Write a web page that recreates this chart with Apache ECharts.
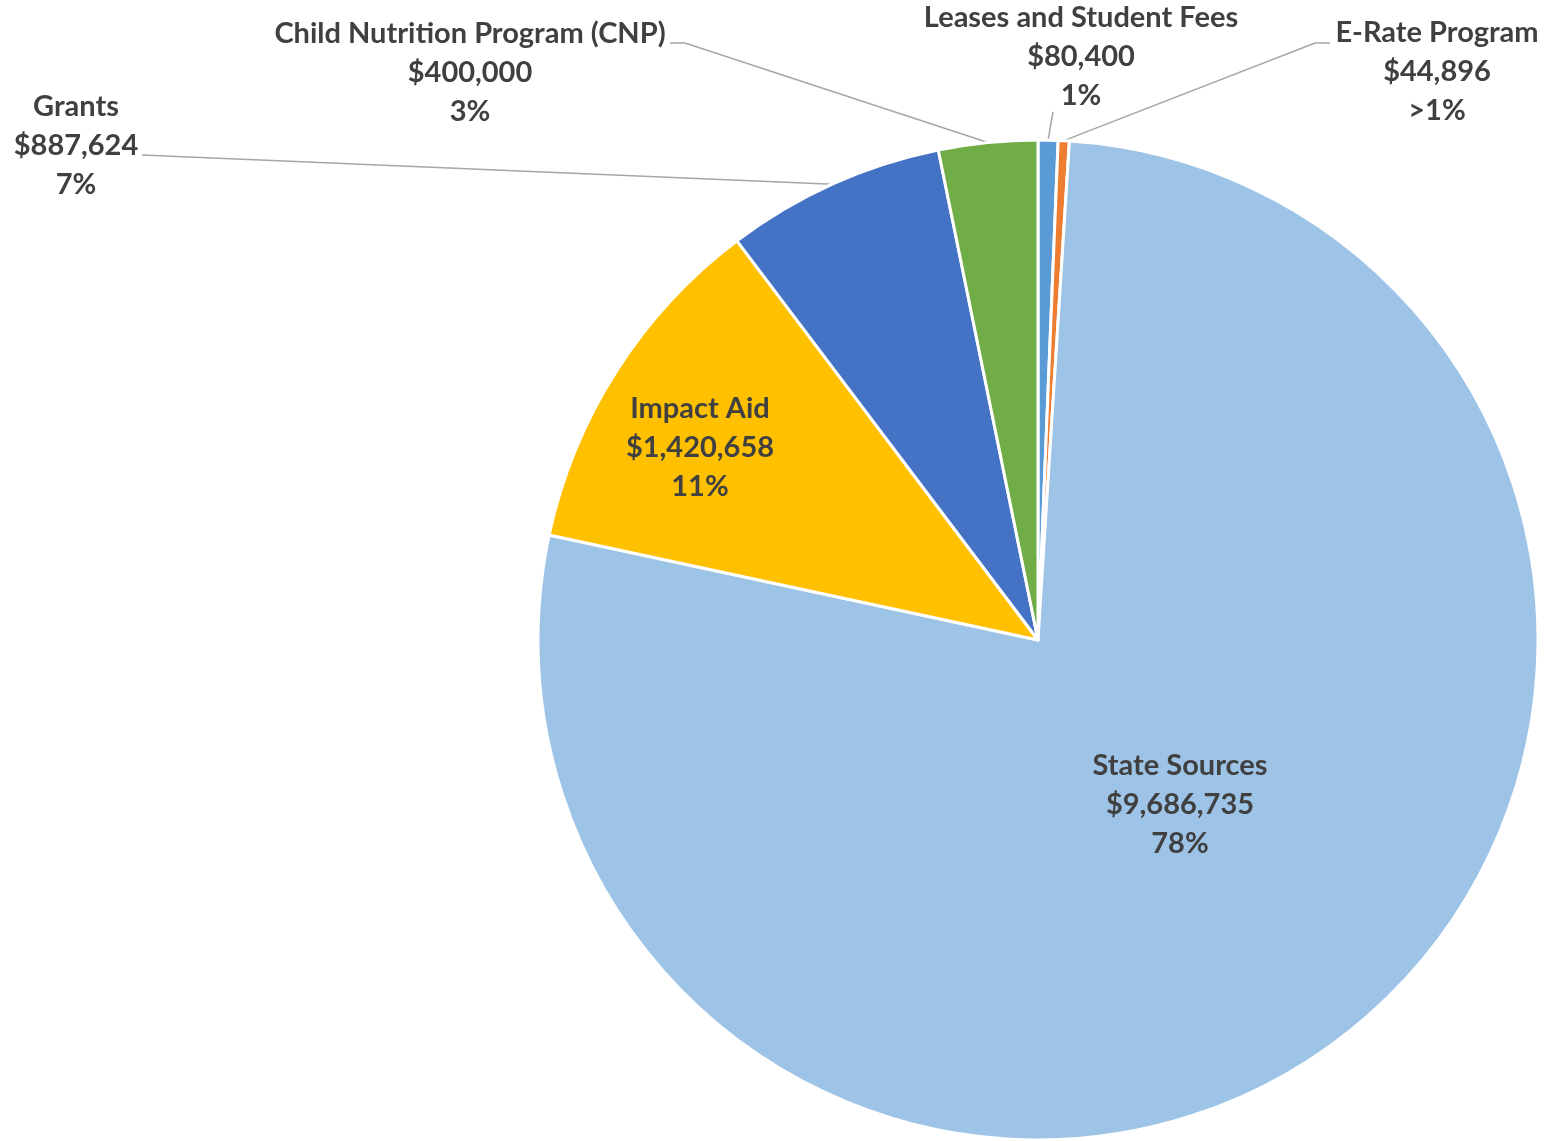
<!DOCTYPE html>
<html>
<head>
<meta charset="utf-8">
<script src="https://cdn.jsdelivr.net/npm/echarts@6/dist/echarts.min.js"></script>
<style>
html,body{margin:0;padding:0;background:#fff;}
#chart{width:1544px;height:1141px;}
</style>
</head>
<body>
<div id="chart"></div>
<script>
// Data (clockwise from 12 o'clock)
const categories = ["Leases and Student Fees", "E-Rate Program", "State Sources", "Impact Aid", "Grants", "Child Nutrition Program (CNP)"];
const values = [80400, 44896, 9686735, 1420658, 887624, 400000];
const pctLabels = ["1%", ">1%", "78%", "11%", "7%", "3%"];
const colors = ["#5B9BD5", "#ED7D31", "#9DC3E6", "#FFC000", "#4472C4", "#70AD47"];

// Layout (styling, not data)
const CX = 1038, CY = 640, R = 500;
const insideIdx = [2, 3];
const labelPos = [
  {x: 1081, y: 57, line: [[1053, 112]]},
  {x: 1437, y: 72, line: [[1315, 43], [1330, 43]]},
  {x: 1180, y: 805},
  {x: 700, y: 448},
  {x: 76, y: 146, line: [[142, 155]]},
  {x: 470, y: 73, line: [[685, 43], [670, 43]]}
];

const total = values.reduce((a, b) => a + b, 0);
function edgePoint(i) {
  let cum = 0;
  for (let k = 0; k < i; k++) cum += values[k];
  const mid = (cum + values[i] / 2) / total * Math.PI * 2;
  return [CX + R * Math.sin(mid), CY - R * Math.cos(mid)];
}

const data = categories.map((name, i) => ({
  name: name,
  value: values[i],
  itemStyle: {color: colors[i]},
  label: {position: insideIdx.includes(i) ? 'inside' : 'outside'},
  labelLine: {show: !insideIdx.includes(i)}
}));

const chart = echarts.init(document.getElementById('chart'), null, {renderer: 'canvas'});
chart.setOption({
  animation: false,
  series: [{
    type: 'pie',
    center: [CX, CY],
    radius: [0, R],
    startAngle: 90,
    clockwise: true,
    avoidLabelOverlap: false,
    data: data,
    itemStyle: {borderColor: '#ffffff', borderWidth: 3},
    emphasis: {disabled: true},
    label: {
      show: true,
      formatter: p => p.name + '\n$' + p.value.toLocaleString('en-US') + '\n' + pctLabels[p.dataIndex],
      fontFamily: 'Lato',
      fontWeight: 'bold',
      fontSize: 29,
      lineHeight: 39,
      color: '#404040',
      align: 'center'
    },
    labelLine: {
      show: true,
      lineStyle: {color: '#A6A6A6', width: 1.5},
      smooth: false
    },
    labelLayout: function (params) {
      const i = params.dataIndex;
      const lp = labelPos[i];
      const res = {x: lp.x, y: lp.y, align: 'center', verticalAlign: 'middle'};
      if (lp.line) {
        res.labelLinePoints = [edgePoint(i)].concat(lp.line);
      }
      return res;
    }
  }]
});
</script>
</body>
</html>
